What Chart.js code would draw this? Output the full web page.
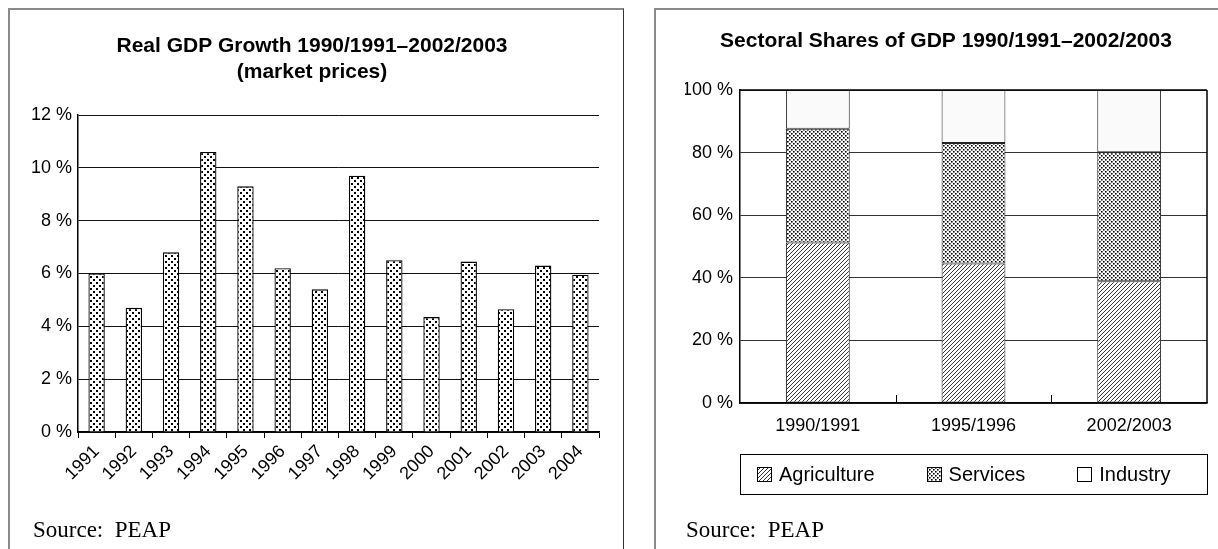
<!DOCTYPE html>
<html><head><meta charset="utf-8">
<script src="https://cdn.jsdelivr.net/npm/chart.js@4.4.1/dist/chart.umd.min.js"></script>
<style>
html,body{margin:0;padding:0;background:#fff;width:1218px;height:549px;overflow:hidden;font-family:"Liberation Sans",Arial,sans-serif;}
.panel{position:absolute;box-sizing:border-box;}
#p1{left:8px;top:8px;width:616px;height:560px;border-left:2px solid #8a8a8a;border-top:2px solid #8a8a8a;border-right:1px solid #333;}
#p2{left:654px;top:8px;width:620px;height:560px;border-left:2px solid #8a8a8a;border-top:2px solid #8a8a8a;}
canvas.c{position:absolute;}
#c1{left:9px;top:9px;}
#c2{left:655px;top:9px;}
.src{position:absolute;top:518px;font-family:"Liberation Serif","Times New Roman",serif;font-size:23px;white-space:pre;color:#000;line-height:1;}
#legend{position:absolute;left:740px;top:454px;width:468px;height:41px;box-sizing:border-box;border:1px solid #000;display:flex;align-items:center;padding-left:16px;gap:52px;font-size:20px;color:#000;}
.item{display:flex;align-items:center;gap:7px;}
.item canvas{display:block;}
</style></head>
<body>
<div class="panel" id="p1"></div>
<div class="panel" id="p2"></div>
<canvas class="c" id="c1" width="614" height="540"></canvas>
<canvas class="c" id="c2" width="563" height="540"></canvas>
<div class="src" style="left:33px">Source:  PEAP</div>
<div class="src" style="left:686px">Source:  PEAP</div>
<div id="legend"></div>
<script>
// ---- Data: chart 1 ----
const growthTitle = ['Real GDP Growth 1990/1991\u20132002/2003', '(market prices)'];
const growthYears = ['1991','1992','1993','1994','1995','1996','1997','1998','1999','2000','2001','2002','2003','2004'];
const growthValues = [6.0, 4.7, 6.8, 10.6, 9.3, 6.2, 5.4, 9.7, 6.5, 4.35, 6.45, 4.65, 6.3, 5.95];
const growthTicks = [0, 2, 4, 6, 8, 10, 12];

// ---- Data: chart 2 ----
const shareTitle = 'Sectoral Shares of GDP 1990/1991\u20132002/2003';
const sharePeriods = ['1990/1991', '1995/1996', '2002/2003'];
const seriesNames = ['Agriculture', 'Services', 'Industry'];
const agricultureShare = [51.3, 44.6, 38.9];
const servicesShare = [36.3, 38.5, 41.2];
const industryShare = [12.4, 16.9, 19.9];
const shareTicks = [0, 20, 40, 60, 80, 100];

const SANS = '"Liberation Sans", Arial, sans-serif';

function makePattern(kind) {
  const t = document.createElement('canvas');
  let s;
  if (kind === 'sparseDots') s = 6;
  else if (kind === 'denseDots') s = 4;
  else if (kind === 'hatch') s = 4;
  else s = 4;
  t.width = s; t.height = s;
  const g = t.getContext('2d');
  if (kind === 'plain') { g.fillStyle = '#fafafa'; g.fillRect(0,0,s,s); }
  else { g.fillStyle = '#fff'; g.fillRect(0,0,s,s); }
  g.fillStyle = '#000'; g.strokeStyle = '#000';
  if (kind === 'sparseDots') {
    g.fillRect(0,0,2,2); g.fillRect(3,3,2,2);
  } else if (kind === 'denseDots') {
    g.fillRect(0,0,1.6,1.6); g.fillRect(2,2,1.6,1.6);
  } else if (kind === 'hatch') {
    g.lineWidth = 0.8;
    g.beginPath();
    g.moveTo(-1, s+1); g.lineTo(s+1, -1);
    g.moveTo(-1, 1); g.lineTo(1, -1);
    g.moveTo(s-1, s+1); g.lineTo(s+1, s-1);
    g.stroke();
  }
  return g.createPattern(t, 'repeat');
}

// ---------- Chart 1 ----------
new Chart(document.getElementById('c1'), {
  type: 'bar',
  data: {
    labels: growthYears,
    datasets: [{
      data: growthValues,
      backgroundColor: makePattern('sparseDots'),
      borderColor: '#000',
      borderWidth: 1.3,
      categoryPercentage: 1,
      barPercentage: 0.44
    }]
  },
  options: {
    responsive: false, animation: false,
    layout: { padding: { left: 16, right: 24, top: 0, bottom: 0 } },
    plugins: {
      legend: { display: false }, tooltip: { enabled: false },
      title: { display: true, text: growthTitle, color: '#000',
        font: { family: SANS, size: 21, weight: 'bold', lineHeight: 1.25 },
        padding: { top: 24, bottom: 29.5 } }
    },
    scales: {
      x: {
        offset: true,
        grid: { offset: true, drawOnChartArea: false, drawTicks: true, tickLength: 6, color: '#000', lineWidth: 1 },
        border: { color: '#000', width: 1.5 },
        ticks: { autoSkip: false, maxRotation: 45, minRotation: 45, color: '#000', padding: 3, font: { family: SANS, size: 18 } },
        afterFit(s) { s.height = 117; }
      },
      y: {
        min: 0, max: 12,
        afterBuildTicks(s) { s.ticks = growthTicks.map(v => ({ value: v })); },
        grid: { color: '#111', lineWidth: 1, drawTicks: false },
        border: { color: '#000', width: 1.5 },
        ticks: { color: '#000', padding: 6, font: { family: SANS, size: 18 }, callback: v => v + ' %' },
        afterFit(s) { s.width = 53; }
      }
    }
  }
});

// ---------- Chart 2 ----------
const sharePatterns = [makePattern('hatch'), makePattern('denseDots'), makePattern('plain')];
const shareSeries = [agricultureShare, servicesShare, industryShare];

const frame2 = {
  id: 'frame2',
  afterDatasetsDraw(chart) {
    const { ctx, chartArea: a, scales: { x } } = chart;
    ctx.save();
    ctx.strokeStyle = '#000';
    ctx.lineWidth = 1.5;
    ctx.beginPath();
    ctx.moveTo(a.right, a.top); ctx.lineTo(a.right, a.bottom);
    ctx.moveTo(a.left, a.top); ctx.lineTo(a.right, a.top);
    ctx.stroke();
    ctx.lineWidth = 1;
    ctx.beginPath();
    for (let i = 0; i < sharePeriods.length - 1; i++) {
      const px = Math.round((x.getPixelForValue(i) + x.getPixelForValue(i + 1)) / 2) + 0.5;
      ctx.moveTo(px, a.bottom); ctx.lineTo(px, a.bottom - 8);
    }
    ctx.stroke();
    ctx.restore();
  }
};

new Chart(document.getElementById('c2'), {
  type: 'bar',
  data: {
    labels: sharePeriods,
    datasets: seriesNames.map((name, i) => ({
      label: name,
      data: shareSeries[i],
      backgroundColor: sharePatterns[i],
      borderColor: '#222',
      borderWidth: 1,
      borderSkipped: false,
      categoryPercentage: 1,
      barPercentage: 0.41
    }))
  },
  options: {
    responsive: false, animation: false,
    layout: { padding: { left: 30, right: 11, top: 0, bottom: 0 } },
    plugins: {
      legend: { display: false }, tooltip: { enabled: false },
      title: { display: true, text: shareTitle, color: '#000',
        font: { family: SANS, size: 21, weight: 'bold', lineHeight: 1.25 },
        padding: { top: 19, bottom: 35.75 } }
    },
    scales: {
      x: {
        stacked: true,
        grid: { display: true, drawOnChartArea: false, drawTicks: false },
        border: { color: '#000', width: 1.5 },
        ticks: { color: '#000', padding: 12, font: { family: SANS, size: 18 } },
        afterFit(s) { s.height = 146; }
      },
      y: {
        stacked: true, min: 0, max: 100,
        afterBuildTicks(s) { s.ticks = shareTicks.map(v => ({ value: v })); },
        grid: { color: '#333', lineWidth: 1, drawTicks: false },
        border: { color: '#000', width: 1.5 },
        ticks: { color: '#000', padding: 7, font: { family: SANS, size: 18 }, callback: v => v + ' %' },
        afterFit(s) { s.width = 55; }
      }
    }
  },
  plugins: [frame2]
});

// ---------- HTML legend built from series ----------
const legend = document.getElementById('legend');
seriesNames.forEach((name, i) => {
  const item = document.createElement('div');
  item.className = 'item';
  const sw = document.createElement('canvas');
  sw.width = 15; sw.height = 15;
  const g = sw.getContext('2d');
  g.fillStyle = i === 2 ? '#fff' : sharePatterns[i];
  g.fillRect(0, 0, 15, 15);
  g.strokeStyle = '#000'; g.lineWidth = 1;
  g.strokeRect(0.5, 0.5, 14, 14);
  const tx = document.createElement('span');
  tx.textContent = name;
  item.appendChild(sw); item.appendChild(tx);
  legend.appendChild(item);
});
</script>
</body></html>
